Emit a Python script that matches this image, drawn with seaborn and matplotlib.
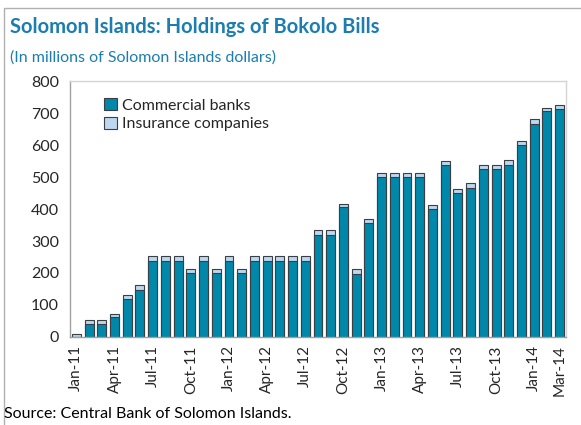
"""
Solomon Islands: holdings of Bokolo Bills, stacked monthly bars.
"""

import pandas as pd
import matplotlib
matplotlib.use("Agg")
import matplotlib.pyplot as plt
from matplotlib.patches import Patch, Rectangle
import seaborn as sns

# monthly labels Jan-11 .. Mar-14
months = [f"{m}-{y}" for y in ["11", "12", "13", "14"]
          for m in ["Jan", "Feb", "Mar", "Apr", "May", "Jun",
                    "Jul", "Aug", "Sep", "Oct", "Nov", "Dec"]][:39]

commercial = [0, 40, 40, 62, 120, 148, 239, 239, 239, 200, 239, 200,
              239, 200, 239, 239, 239, 239, 239, 320, 320, 406, 198, 356,
              500, 500, 500, 500, 400, 536, 451, 465, 525, 525, 538, 600,
              665, 707, 711]
insurance = [10, 12, 12, 10, 12, 15, 13, 13, 13, 11, 13, 11,
             13, 11, 13, 13, 13, 13, 13, 14, 14, 11, 13, 14,
             14, 14, 14, 14, 14, 13, 13, 15, 11, 11, 15, 14,
             15, 10, 14]

yticks = list(range(0, 801, 100))

TEAL = "#0088aa"
LIGHT = "#bdd7ee"
EDGE = "#3a3f44"
TITLE_C = "#1b7db0"

sns.set_style("white")
plt.rcParams["font.family"] = ["Lato", "DejaVu Sans"]

df = pd.DataFrame({"month": months, "commercial": commercial,
                   "insurance": insurance})
df["total"] = df["commercial"] + df["insurance"]

fig = plt.figure(figsize=(5.81, 4.25), dpi=100)
ax = fig.add_axes([70 / 581, 1 - 337 / 425, (566 - 70) / 581, (337 - 81) / 425])

# total first (insurance shows on top), commercial drawn over it
sns.barplot(data=df, x="month", y="total", color=LIGHT, width=0.7,
            edgecolor=EDGE, linewidth=0.8, saturation=1, ax=ax)
sns.barplot(data=df, x="month", y="commercial", color=TEAL, width=0.7,
            edgecolor=EDGE, linewidth=0.8, saturation=1, ax=ax)

ax.set_xlim(-0.5, len(months) - 0.5)
ax.set_ylim(0, 800)
ax.set_yticks(yticks)
ax.set_yticklabels([str(v) for v in yticks], fontsize=11.5)

tick_pos = list(range(0, len(months), 3)) + [len(months) - 1]
ax.set_xticks(tick_pos)
ax.set_xticklabels([months[i] for i in tick_pos], rotation=90, fontsize=11)
ax.set_xlabel("")
ax.set_ylabel("")
ax.tick_params(axis="y", direction="in", length=4, color="#c0c0c0", pad=8)
ax.tick_params(axis="x", length=0, pad=6)

for sp in ax.spines.values():
    sp.set_color("#d4d4d4")
    sp.set_linewidth(1)
ax.spines["bottom"].set_color("#a0a0a0")
ax.spines["left"].set_color("#a0a0a0")

handles = [Patch(facecolor=TEAL, edgecolor=EDGE, linewidth=0.8),
           Patch(facecolor=LIGHT, edgecolor=EDGE, linewidth=0.8)]
ax.legend(handles, ["Commercial banks", "Insurance companies"],
          loc="upper left", bbox_to_anchor=(0.04, 0.99), frameon=False,
          fontsize=11.5, handlelength=0.8, handleheight=0.8,
          handletextpad=0.3, labelspacing=0.25)

fig.text(10 / 581, 1 - 27 / 425, "Solomon Islands: Holdings of Bokolo Bills",
         fontsize=14.5, fontweight="bold", color=TITLE_C, va="center")
fig.text(10 / 581, 1 - 58 / 425, "(In millions of Solomon Islands dollars)",
         fontsize=11.5, color=TITLE_C, va="center")
fig.text(4 / 581, 1 - 414 / 425, "Source: Central Bank of Solomon Islands.",
         fontsize=11.5, color="black", va="center")

# outer frame lines at top and left
fig.add_artist(Rectangle((4 / 581, -0.1), 1.2, 1.1 - 8 / 425,
                         transform=fig.transFigure, fill=False,
                         edgecolor="#b0b0b0", linewidth=1))

fig.savefig("out.png", dpi=100)
